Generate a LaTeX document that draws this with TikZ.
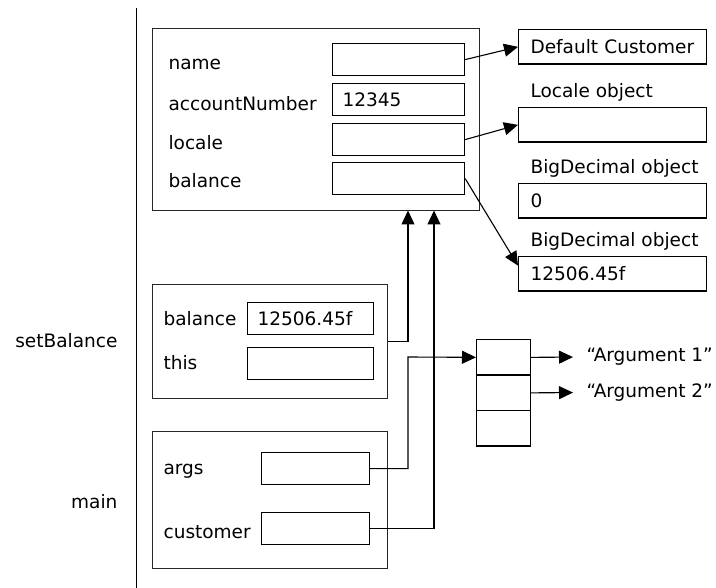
\documentclass[tikz,border=0pt]{standalone}
\usepackage{fontspec}
\setmainfont{DejaVu Sans}
\usetikzlibrary{arrows.meta,calc}
\begin{document}
\begin{tikzpicture}[x=1pt,y=-1pt,
  font=\fontsize{18.5}{22}\selectfont,
  every node/.style={line width=1.2pt},
  frame/.style={draw, inner sep=0pt, anchor=north west, line width=1.3pt, draw=black!85},
  fld/.style={draw, anchor=north west, minimum height=32pt, inner xsep=10pt, inner ysep=0pt},
  obj/.style={draw, anchor=north west, minimum height=34.5pt, text width=164pt, inner xsep=12pt, inner ysep=0pt},
  cell/.style={draw, anchor=north west, minimum width=54pt, minimum height=35.5pt, inner sep=0pt},
  lbl/.style={anchor=base west, inner sep=0pt},
  arr/.style={-{Triangle[length=14pt,width=13pt]}, line width=1.1pt}]
\useasboundingbox (0,0) rectangle (716,588);
% stack divider
\draw[line width=1.2pt] (136.7,8) -- (136.7,588);
% frames
\node[frame, minimum width=327pt, minimum height=182pt] (obj) at (152,28) {};
\node[frame, minimum width=235pt, minimum height=114pt] (sb) at (152,284) {};
\node[frame, minimum width=235pt, minimum height=137pt] (mn) at (152,431) {};
% labels left
\node[anchor=base east, inner sep=0pt] (lsb) at (118,348) {setBalance};
\node[anchor=base east, inner sep=0pt] (lmn) at (118,508) {main};
% object fields
\node[lbl] (lname) at (168,70) {name};
\node[lbl] (lacc) at (168,111) {accountNumber};
\node[lbl] (lloc) at (168,150) {locale};
\node[lbl] (lbal) at (168,188) {balance};
\node[fld, text width=112pt] (fname) at (332,43) {};
\node[fld, text width=112pt] (facc) at (332,83) {12345};
\node[fld, text width=112pt] (floc) at (332,123) {};
\node[fld, text width=112pt] (fbal) at (332,162) {};
% right objects
\node[obj] (dc) at (518,29) {Default Customer};
\node[lbl] (tloc) at (530,98) {Locale object};
\node[obj] (loc) at (518,107) {};
\node[lbl] (tbd1) at (530,174) {BigDecimal object};
\node[obj] (bd1) at (518,183) {0};
\node[lbl] (tbd2) at (530,247) {BigDecimal object};
\node[obj] (bd2) at (518,256) {12506.45f};
% setBalance frame
\node[lbl] (lsbal) at (163,326) {balance};
\node[lbl] (lthis) at (163,370) {this};
\node[fld, text width=106pt] (sbal) at (247,302) {12506.45f};
\node[fld, text width=106pt] (sthis) at (247,347) {};
% main frame
\node[lbl] (largs) at (163,475) {args};
\node[lbl] (lcust) at (163,538) {customer};
\node[fld, text width=88pt] (margs) at (261,452) {};
\node[fld, text width=88pt] (mcust) at (261,512) {};
% array
\node[cell] (c1) at (476,339) {};
\node[cell] (c2) at (476,374.5) {};
\node[cell] (c3) at (476,410) {};
\node[anchor=west, inner sep=0pt] (a1) at (586,357) {“Argument 1”};
\node[anchor=west, inner sep=0pt] (a2) at (586,392.5) {“Argument 2”};
% coordinates
\coordinate (t1) at (408,210.5);
\coordinate (t2) at (434,210.5);
\coordinate (ja) at (408,357);
% connectors
\draw[arr] (fname.east) -- (dc.west);
\draw[arr] (floc.east) -- (loc.west);
\draw[arr] (fbal.east) -- ($(bd2.north west)!0.27!(bd2.south west)$);
\draw[arr] (sb.east) -| (t1);
\draw[arr] (mcust.east) -| (t2);
\draw[arr] (margs.east) -| (ja) -- (c1.west);
\draw[arr, shorten >=13pt] (c1.east) -- (a1.west);
\draw[arr, shorten >=13pt] (c2.east) -- (a2.west);
\end{tikzpicture}
\end{document}
